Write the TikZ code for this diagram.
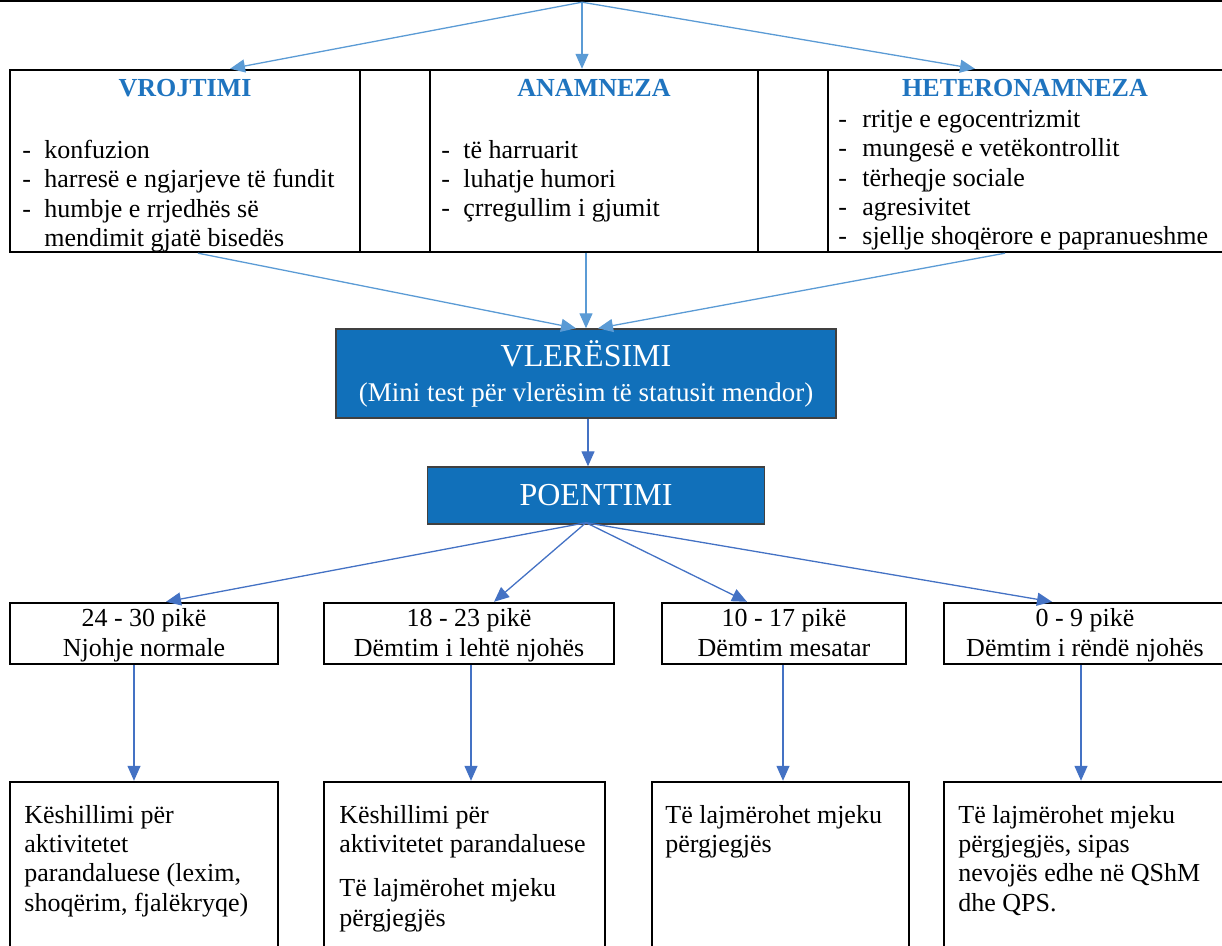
\documentclass[tikz,border=0pt]{standalone}
\usepackage{fontspec}
\setmainfont{Liberation Serif}
\usetikzlibrary{arrows.meta,positioning,calc}
\definecolor{boxblue}{HTML}{1170BA}
\definecolor{headblue}{HTML}{1F74BF}
\definecolor{lightarrow}{HTML}{5B9BD5}
\definecolor{darkarrow}{HTML}{4472C4}
\newcommand{\dsh}{\makebox[11pt][l]{-}}
\newcommand{\dshh}{\makebox[12pt][l]{-}}
\newcommand{\sst}{\rule[-3pt]{0pt}{14.5pt}}

\begin{document}
\begin{tikzpicture}[x=0.5pt,y=-0.5pt,
 c/.style={draw,line width=1.2pt,inner sep=0pt},
 hd/.style={anchor=base,inner sep=0pt,text=headblue,font=\fontsize{13}{14.6}\selectfont\bfseries},
 ls/.style={anchor=north west,inner sep=0pt,align=left,font=\fontsize{13}{14.6}\selectfont},
 sc/.style={draw,line width=1.2pt,inner sep=0pt,align=center,minimum height=30.5pt,
   font=\fontsize{13}{15}\selectfont},
 bb/.style={draw=black!75,line width=0.7pt,fill=boxblue,text=white,inner sep=0pt,align=center},
 la/.style={-{Triangle[length=7.5pt,width=6.5pt]},line width=0.65pt,lightarrow},
 da/.style={-{Triangle[length=7.5pt,width=6.5pt]},line width=0.65pt,darkarrow}]
\useasboundingbox (0,0) rectangle (1222,946);
\clip (0,0) rectangle (1222,946);
\node[c,minimum width=640pt,minimum height=40pt] (top) at (611,-39) {};
% table of the three sources
\node[c,minimum width=175pt,minimum height=91pt] (v) at (185,161) {};
\node[c,minimum width=35pt,minimum height=91pt] (g1) at (395,161) {};
\node[c,minimum width=164pt,minimum height=91pt] (an) at (594,161) {};
\node[c,minimum width=35pt,minimum height=91pt] (g2) at (793,161) {};
\node[c,minimum width=206pt,minimum height=91pt] (h) at (1034,161) {};
\node[hd] (vh) at (185,97) {VROJTIMI};
\node[hd] (anh) at (594,97) {ANAMNEZA};
\node[hd] (hh) at (1025,97) {HETERONAMNEZA};
\node[ls] (vl1) at (22,140)
  {\dsh konfuzion\\\dsh harresë e ngjarjeve të fundit\\\dsh humbje e rrjedhës së\\\hspace*{11pt}mendimit gjatë bisedës};
\node[ls] (anl) at (441,140)
  {\dsh të harruarit\\\dsh luhatje humori\\\dsh çrregullim i gjumit};
\node[ls] (hl) at (838,110)
  {\dshh rritje e egocentrizmit\\\dshh mungesë e vetëkontrollit\\\dshh tërheqje sociale\\\dshh agresivitet\\\dshh sjellje shoqërore e papranueshme};
\draw[la] ([xshift=-14.5pt]top.south)--([xshift=22.5pt]v.north);
\draw[la] ([xshift=-14.5pt]top.south)--([xshift=-6pt]an.north);
\draw[la] ([xshift=-14.5pt]top.south)--([xshift=-29.5pt]h.north);
% assessment
\node[bb,minimum width=250pt,minimum height=44.5pt,font=\fontsize{13.5}{17.5}\selectfont] (vl) at (586,373.5)
  {{\fontsize{16}{17.5}\selectfont VLERËSIMI}\\(Mini test për vlerësim të statusit mendor)};
\node[bb,minimum width=168.5pt,minimum height=28.5pt,font=\fontsize{16}{18}\selectfont] (po) at (596,495.5) {POENTIMI};
\draw[la] ([xshift=6.5pt]v.south)--([xshift=-5pt]vl.north);
\draw[la] ([xshift=-4pt]an.south)--(vl.north);
\draw[la] ([xshift=-14.5pt]h.south)--([xshift=6pt]vl.north);
\draw[da] ([xshift=1pt]vl.south)--([xshift=-4pt]po.north);
% score ranges
\node[sc,minimum width=134pt] (s1) at (144,633.5) {\sst 24 - 30 pikë\\\sst Njohje normale};
\node[sc,minimum width=145pt] (s2) at (469,633.5) {\sst 18 - 23 pikë\\\sst Dëmtim i lehtë njohës};
\node[sc,minimum width=122pt] (s3) at (784,633.5) {\sst 10 - 17 pikë\\\sst Dëmtim mesatar};
\node[sc,minimum width=141pt] (s4) at (1085,633.5) {\sst 0 - 9 pikë\\\sst Dëmtim i rëndë njohës};
\draw[da] ([xshift=-5pt,yshift=1pt]po.south)--([xshift=11pt]s1.north);
\draw[da] ([xshift=-5pt,yshift=1pt]po.south)--([xshift=12.5pt]s2.north);
\draw[da] ([xshift=-5pt,yshift=1pt]po.south)--([xshift=-18.5pt]s3.north);
\draw[da] ([xshift=-5pt,yshift=1pt]po.south)--([xshift=-16.5pt]s4.north);
% advice
\node[c,minimum width=134pt,minimum height=109pt] (d1) at (144,891) {};
\node[c,minimum width=140.5pt,minimum height=109pt] (d2) at (464.5,891) {};
\node[c,minimum width=128.5pt,minimum height=109pt] (d3) at (780.5,891) {};
\node[c,minimum width=143pt,minimum height=109pt] (d4) at (1087,891) {};
\node[ls] (t1) at (24,805) {Këshillimi për\\aktivitetet\\parandaluese (lexim,\\shoqërim, fjalëkryqe)};
\node[ls] (t2) at (339,805) {Këshillimi për\\aktivitetet parandaluese\\[7.5pt]Të lajmërohet mjeku\\përgjegjës};
\node[ls] (t3) at (665,805) {Të lajmërohet mjeku\\përgjegjës};
\node[ls] (t4) at (958,805) {Të lajmërohet mjeku\\përgjegjës, sipas\\nevojës edhe në QShM\\dhe QPS.};
\draw[da] ([xshift=-5pt]s1.south)--([xshift=-5pt]d1.north);
\draw[da] ([xshift=1pt]s2.south)--([xshift=3.25pt]d2.north);
\draw[da] ([xshift=-0.5pt]s3.south)--([xshift=1.25pt]d3.north);
\draw[da] ([xshift=-2pt]s4.south)--([xshift=-3pt]d4.north);
\end{tikzpicture}
\end{document}
